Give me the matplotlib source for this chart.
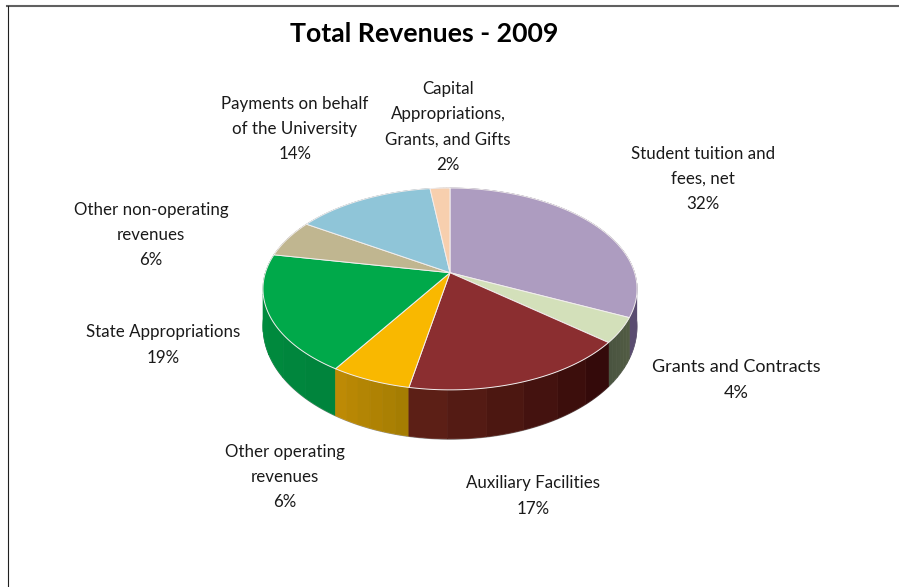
import numpy as np
import matplotlib
matplotlib.use('Agg')
import matplotlib.pyplot as plt
from matplotlib.colors import to_rgb

plt.rcParams['font.family'] = ['Lato', 'DejaVu Sans']

# data, clockwise from 12 o'clock
categories = ['Student tuition and\nfees, net', 'Grants and Contracts', 'Auxiliary Facilities',
              'Other operating\nrevenues', 'State Appropriations', 'Other non-operating\nrevenues',
              'Payments on behalf\nof the University', 'Capital\nAppropriations,\nGrants, and Gifts']
values = [32, 4, 17, 6, 19, 6, 14, 2]
title = 'Total Revenues - 2009'

top_colors = ['#ad9cc0', '#d3e0ba', '#8b2e30', '#f9b800', '#00a94a', '#c0b690', '#8fc5d8', '#f7cfae']
side_start = ['#4c3f66', '#525c44', '#340a0a', '#a57d02', '#00843c', '#7a7358', '#5a7d89', '#9c8370']
side_end = ['#5a4c70', '#4a5440', '#5c1f16', '#bd8a05', '#00903f', '#7a7358', '#5a7d89', '#9c8370']

# label centres in pixels
label_xy = [(703, 179), (736, 380), (533, 496), (285, 477), (163, 345), (151, 235), (295, 129), (448, 127)]
label_size = [12.2, 13.0, 12.2, 12.2, 12.2, 12.2, 12.2, 12.2]

# projection of the tilted disc
cx, cy = 450, 272.7
ax_x, ax_y, persp = 184.6, 98.3, 0.161


def rim(phi):
    u, v = np.sin(phi), np.cos(phi)
    d = 1 + persp * v
    return cx + ax_x * u / d, cy - ax_y * v / d


def depth(phi):
    return 35 - 14 * np.cos(phi)


fig = plt.figure(figsize=(8.99, 5.87), dpi=100)
ax = fig.add_axes([0, 0, 1, 1])
ax.set_xlim(0, 899)
ax.set_ylim(587, 0)
ax.axis('off')

edges = np.cumsum([0] + values) / sum(values) * 2 * np.pi

# side wall as a few shaded bands per slice, back ones first
bands = []
n_bands = 6
for i in range(len(values)):
    cuts = np.linspace(edges[i], edges[i + 1], n_bands + 1)
    for j in range(n_bands):
        bands.append((i, cuts[j], cuts[j + 1], j / (n_bands - 1)))
bands.sort(key=lambda s: -np.cos((s[1] + s[2]) / 2))
for i, a, b, t in bands:
    col = (1 - t) * np.array(to_rgb(side_start[i])) + t * np.array(to_rgb(side_end[i]))
    phis = np.linspace(a, b, 30)
    xs, ys = rim(phis)
    ax.fill(np.r_[xs, xs[::-1]], np.r_[ys, (ys + depth(phis))[::-1]], color=col, lw=0.5, zorder=2)

# thin dark line under the wall
phis = np.linspace(np.pi / 2, 3 * np.pi / 2, 200)
xs, ys = rim(phis)
ax.plot(xs, ys + depth(phis) + 0.5, color='#3a3a3a', lw=0.5, alpha=0.6, zorder=1)

# top face
for i in range(len(values)):
    phis = np.linspace(edges[i], edges[i + 1], 80)
    xs, ys = rim(phis)
    ax.fill(np.r_[cx, xs], np.r_[cy, ys], facecolor=top_colors[i], edgecolor='#f2eeee', lw=0.7,
            joinstyle='round', zorder=3)

# frame, top and left only
ax.plot([7, 899], [6, 6], color='#606060', lw=1.5, zorder=1)
ax.plot([7.5, 7.5], [6, 587], color='#202020', lw=0.8, zorder=1)

ax.text(424.5, 34.5, title, ha='center', va='center', fontsize=19.2, fontweight='bold', color='black')
for name, val, (x, y), size in zip(categories, values, label_xy, label_size):
    ax.text(x, y, f'{name}\n{val}%', ha='center', va='center', fontsize=size, color='#1a1a1a',
            linespacing=1.7)

fig.savefig('out.png', dpi=100)
